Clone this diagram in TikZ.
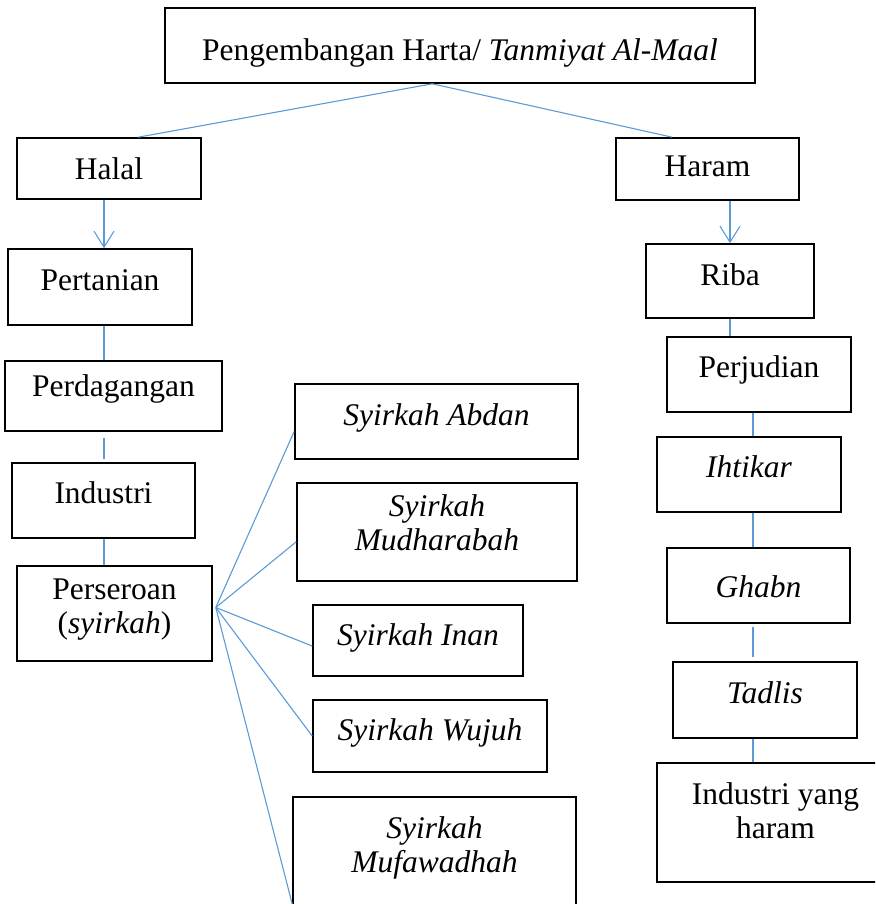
\documentclass[tikz,border=0pt]{standalone}
\usepackage{fontspec}
\setmainfont{Liberation Serif}
\usepackage{tikz}
\usetikzlibrary{arrows.meta}
\definecolor{garisbiru}{RGB}{91,155,213}

\begin{document}
\begin{tikzpicture}[x=1pt,y=-1pt,>={Straight Barb[length=16pt,width=20pt]},
        kotak/.style n args={3}{draw=black,line width=1.6pt,inner sep=0pt,align=center,
          font=\fontsize{31.5}{34}\selectfont,minimum width=#1,text height=#2pt,text depth=#3pt},
        garis/.style={garisbiru,line width=1.1pt}]

      \useasboundingbox (0,0) rectangle (875,904);
      \clip (0,0) rectangle (875,904);

      \coordinate (kiri) at (104,0);
      \coordinate (kanan) at (753,0);

      \node[kotak={590}{53}{22}] (harta) at (460,45.5) {Pengembangan Harta/ \textit{Tanmiyat Al-Maal}};
      \node[kotak={184}{41}{20}] (halal) at (109,168.5) {Halal};
      \node[kotak={183}{39}{23}] (haram) at (707.5,169) {Haram};

      \node[kotak={184}{41}{35}] (tani) at (100,287) {Pertanian};
      \node[kotak={217}{35}{35}] (dagang) at (113.5,396) {Perdagangan};
      \node[kotak={183}{40}{35}] (industri) at (103.5,500.5) {Industri};
      \node[kotak={195}{67}{28}] (syirkah) at (114.5,613.5) {Perseroan\\(\textit{syirkah})};

      \node[kotak={283}{41}{34}] (abdan) at (436.5,421.5) {\textit{Syirkah Abdan}};
      \node[kotak={280}{67}{31}] (mudharabah) at (437,532) {\textit{Syirkah}\\\textit{Mudharabah}};
      \node[kotak={210}{40}{31}] (inan) at (418,640.5) {\textit{Syirkah Inan}};
      \node[kotak={234}{40}{32}] (wujuh) at (430,736) {\textit{Syirkah Wujuh}};
      \node[kotak={283}{75}{68}] (mufawadhah) at (434.5,868.5) {\textit{Syirkah}\\\textit{Mufawadhah}};

      \node[kotak={168}{41}{33}] (riba) at (730,281) {Riba};
      \node[kotak={184}{40}{35}] (judi) at (759,374.5) {Perjudian};
      \node[kotak={184}{40}{35}] (ihtikar) at (749,474.5) {\textit{Ihtikar}};
      \node[kotak={183}{49}{26}] (ghabn) at (758.5,585.5) {\textit{Ghabn}};
      \node[kotak={184}{41}{35}] (tadlis) at (765,700) {\textit{Tadlis}};
      \node[kotak={237}{75}{44}] (indharam) at (775.5,822.5) {Industri yang\\haram};

      \coordinate (cabang) at ([xshift=3pt,yshift=6pt]syirkah.east);

      \path[garis] (harta.234) edge (halal.47) edge (haram.138);

      \path[garis,->] (halal.south -| kiri) edge (tani.north -| kiri);
      \path[garis] (tani.south -| kiri) edge (dagang.north -| kiri);
      \path[garis] (dagang.south -| kiri) edge[shorten <=6pt,shorten >=3pt] (industri.north -| kiri);
      \path[garis] (industri.south -| kiri) edge (syirkah.north -| kiri);

      \path[garis] (cabang) edge (abdan.184) edge (mudharabah.184) edge (inan.183)
        edge (wujuh.west) edge (mufawadhah.194);

      \path[garis,->] (haram.south -| riba.north) edge (riba.north);
      \path[garis] (riba.south) edge (riba.south |- judi.north);
      \path[garis] (judi.south -| kanan) edge (ihtikar.north -| kanan);
      \path[garis] (ihtikar.south -| kanan) edge (ghabn.north -| kanan);
      \path[garis] (ghabn.south -| kanan) edge[shorten <=3pt,shorten >=4pt] (tadlis.north -| kanan);
      \path[garis] (tadlis.south -| kanan) edge (indharam.north -| kanan);
    \end{tikzpicture}
\end{document}
